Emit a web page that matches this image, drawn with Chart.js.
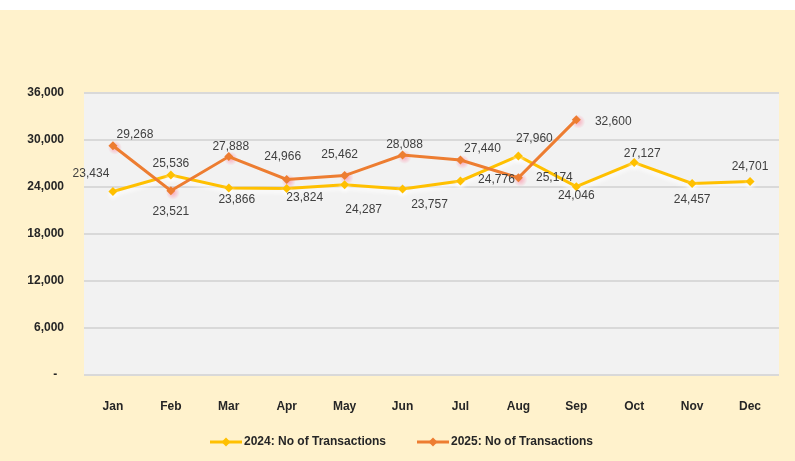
<!DOCTYPE html>
<html>
<head>
<meta charset="utf-8">
<script src="https://cdn.jsdelivr.net/npm/chart.js@4"></script>
<style>
  html, body { margin: 0; padding: 0; background: #ffffff; }
  #wrap { position: absolute; left: 0; top: 10px; width: 795px; height: 451px; background: #FFF2CC; }
</style>
</head>
<body>
<div id="wrap"><canvas id="txChart" width="795" height="451"></canvas></div>
<script>
// data
var months = ['Jan', 'Feb', 'Mar', 'Apr', 'May', 'Jun', 'Jul', 'Aug', 'Sep', 'Oct', 'Nov', 'Dec'];
var tx2024 = [23434, 25536, 23866, 23824, 24287, 23757, 24776, 27960, 24046, 27127, 24457, 24701];
var tx2025 = [29268, 23521, 27888, 24966, 25462, 28088, 27440, 25174, 32600, null, null, null];
var seriesNames = ['2024: No of Transactions', '2025: No of Transactions'];

// where each value label sits relative to its point (px)
var labelShift2024 = [[-22,-18],[0,-11],[8,12],[18,9],[19,25],[27,16],[36,-1],[16,-17],[0,9],[8,-9],[0,16],[0,-15]];
var labelShift2025 = [[22,-11],[0,21],[2,-10],[-4,-23],[-5,-21],[2,-10],[22,-11],[36,0],[37,2]];

var FONT = "'Liberation Sans', Arial, sans-serif";
var YELLOW = '#FFC000';
var ORANGE = '#ED7D31';

function fmt(v) {
    return v.toLocaleString('en-US');
}

var bgPlugin = {
    id: 'plotBg',
    beforeDraw: function(chart) {
        var a = chart.chartArea, ctx = chart.ctx;
        ctx.save();
        ctx.fillStyle = '#F2F2F2';
        ctx.fillRect(a.left, a.top, a.right - a.left, a.bottom - a.top);
        ctx.restore();
    },
    beforeDatasetsDraw: function(chart) {
        // soft pink glow behind the 2025 markers
        var ctx = chart.ctx;
        var meta = chart.getDatasetMeta(1);
        ctx.save();
        meta.data.forEach(function(pt, i) {
            if (tx2025[i] == null) return;
            var g = ctx.createRadialGradient(pt.x + 2, pt.y + 2, 0, pt.x + 2, pt.y + 2, 7);
            g.addColorStop(0, 'rgba(255,110,140,0.55)');
            g.addColorStop(1, 'rgba(255,110,140,0)');
            ctx.fillStyle = g;
            ctx.beginPath();
            ctx.arc(pt.x + 2, pt.y + 2, 7, 0, Math.PI * 2);
            ctx.fill();
        });
        ctx.restore();
    },
    beforeDatasetDraw: function(chart, args) {
        if (args.index === 0) {
            chart.ctx.save();
            chart.ctx.shadowColor = 'rgba(255,255,255,0.95)';
            chart.ctx.shadowBlur = 4;
            chart.ctx.shadowOffsetY = 3;
        }
    },
    afterDatasetDraw: function(chart, args) {
        if (args.index === 0) chart.ctx.restore();
    },
    afterDraw: function(chart) {
        var ctx = chart.ctx;
        ctx.save();
        // value labels
        ctx.font = '12px ' + FONT;
        ctx.fillStyle = '#404040';
        ctx.textAlign = 'center';
        ctx.textBaseline = 'middle';
        [[tx2024, labelShift2024, 0], [tx2025, labelShift2025, 1]].forEach(function(s) {
            var meta = chart.getDatasetMeta(s[2]);
            s[0].forEach(function(v, i) {
                if (v == null) return;
                var pt = meta.data[i];
                ctx.fillText(fmt(v), pt.x + s[1][i][0], pt.y + s[1][i][1]);
            });
        });

        // legend
        var items = [[210, YELLOW, seriesNames[0]], [417, ORANGE, seriesNames[1]]];
        var ly = 432;
        items.forEach(function(it) {
            var x = it[0];
            ctx.strokeStyle = it[1];
            ctx.lineWidth = 3;
            ctx.beginPath();
            ctx.moveTo(x, ly);
            ctx.lineTo(x + 32, ly);
            ctx.stroke();
            ctx.fillStyle = it[1];
            ctx.beginPath();
            ctx.moveTo(x + 16, ly - 4.5);
            ctx.lineTo(x + 20.5, ly);
            ctx.lineTo(x + 16, ly + 4.5);
            ctx.lineTo(x + 11.5, ly);
            ctx.closePath();
            ctx.fill();
            ctx.fillStyle = '#262626';
            ctx.font = 'bold 12px ' + FONT;
            ctx.textAlign = 'left';
            ctx.fillText(it[2], x + 34, ly);
        });
        ctx.restore();
    }
};

var ctx = document.getElementById('txChart').getContext('2d');
new Chart(ctx, {
    type: 'line',
    data: {
        labels: months,
        datasets: [{
            label: seriesNames[0],
            data: tx2024,
            borderColor: YELLOW,
            backgroundColor: YELLOW,
            borderWidth: 3,
            pointStyle: 'rectRot',
            pointRadius: 4.5,
            pointBorderWidth: 0,
            tension: 0,
            order: 1
        }, {
            label: seriesNames[1],
            data: tx2025,
            borderColor: ORANGE,
            backgroundColor: ORANGE,
            borderWidth: 3,
            pointStyle: 'rectRot',
            pointRadius: 4.5,
            pointBorderWidth: 0,
            tension: 0,
            order: 0
        }]
    },
    options: {
        responsive: false,
        animation: false,
        layout: { padding: { left: 0, right: 16, top: 83, bottom: 46 } },
        plugins: {
            legend: { display: false },
            tooltip: { enabled: false }
        },
        scales: {
            x: {
                offset: true,
                grid: { display: false },
                border: { display: false },
                ticks: {
                    padding: 16,
                    color: '#262626',
                    font: { family: FONT, size: 12, weight: 'bold' }
                },
                afterFit: function(s) { s.height = 40; }
            },
            y: {
                min: 0,
                max: 36000,
                grid: { color: '#D9D9D9', lineWidth: 2, drawTicks: false },
                border: { display: false },
                ticks: {
                    stepSize: 6000,
                    padding: 20,
                    color: '#262626',
                    font: { family: FONT, size: 12, weight: 'bold' },
                    callback: function(v) { return v === 0 ? '-  ' : fmt(v); }
                },
                afterFit: function(s) { s.width = 84; }
            }
        }
    },
    plugins: [bgPlugin]
});
</script>
</body>
</html>
